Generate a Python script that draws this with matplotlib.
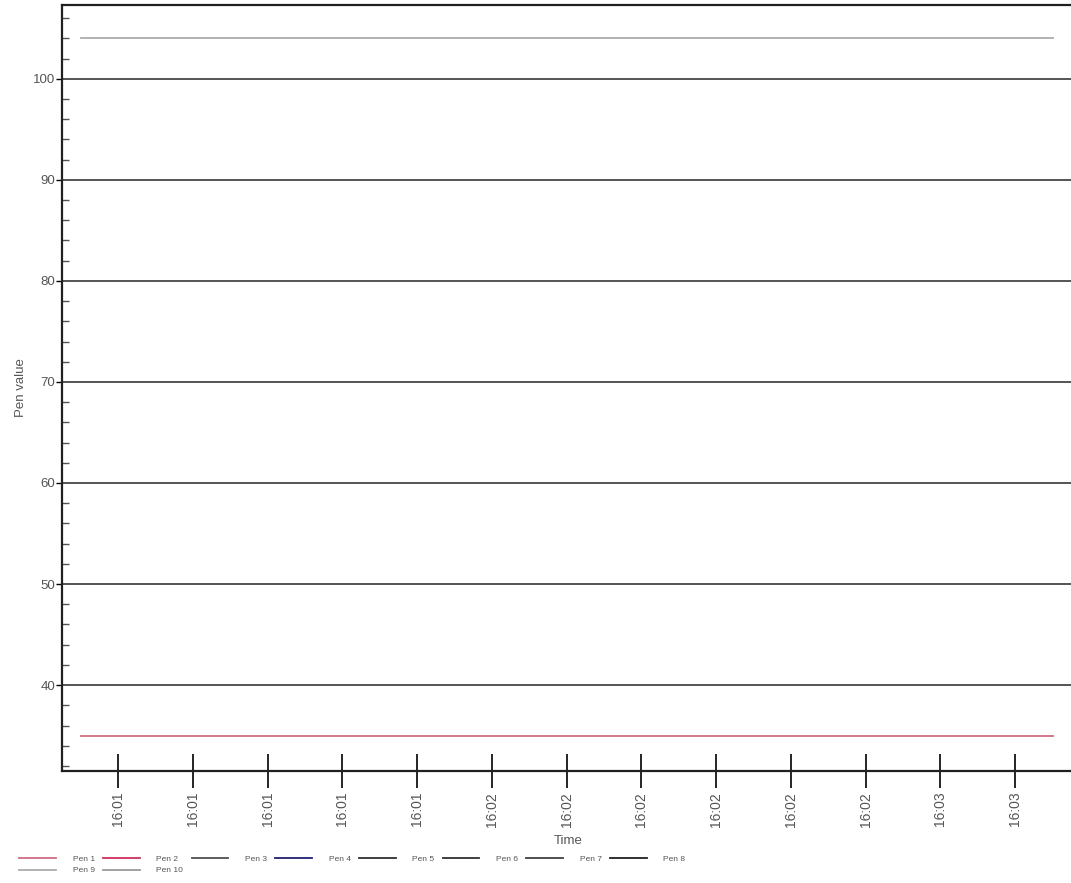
import matplotlib
matplotlib.use('Agg')
import matplotlib.pyplot as plt
import matplotlib.dates as mdates
from matplotlib.ticker import MultipleLocator
from datetime import datetime

# 数据
pen_names = ['Pen 1', 'Pen 2', 'Pen 3', 'Pen 4', 'Pen 5',
             'Pen 6', 'Pen 7', 'Pen 8', 'Pen 9', 'Pen 10']
pen_colors = ['#b8304e', '#d0305a', '#505050', '#202070', '#303030',
              '#303030', '#404040', '#202020', '#8a8a8a', '#9a9a9a']
times = ['16:01:05', '16:03:15']
pen1_values = [35, 35]
pen9_values = [104, 104]
tick_times = ['16:01:10', '16:01:20', '16:01:30', '16:01:40', '16:01:50',
              '16:02:00', '16:02:10', '16:02:20', '16:02:30', '16:02:40',
              '16:02:50', '16:03:00', '16:03:10']
x_range = ['16:01:02.5', '16:03:18']
y_range = (31.5, 107.3)


def to_dt(s):
    fmt = '%H:%M:%S.%f' if '.' in s else '%H:%M:%S'
    return datetime.strptime('2020-01-01 ' + s, '%Y-%m-%d ' + fmt)


def figure():
    plt.rcParams['font.family'] = ['Liberation Sans', 'DejaVu Sans']
    fig = plt.figure(figsize=(10.71, 8.83), dpi=100)
    ax = fig.add_axes([62 / 1071, 112 / 883, 1013 / 1071, 766 / 883])

    t = [to_dt(s) for s in times]
    # 只有两条曲线可见，其余只出现在图例里
    series = {'Pen 1': pen1_values, 'Pen 9': pen9_values}
    handles = {}
    for name, color in zip(pen_names, pen_colors):
        if name in series:
            h, = ax.plot(t, series[name], color=color, linewidth=1.3, alpha=0.7, label=name)
        else:
            h, = ax.plot([], [], color=color, linewidth=1.3, label=name)
        handles[name] = h

    ax.set_xlim(to_dt(x_range[0]), to_dt(x_range[1]))
    ax.set_ylim(*y_range)

    # y 轴刻度和网格
    ax.yaxis.set_major_locator(MultipleLocator(10))
    ax.yaxis.set_minor_locator(MultipleLocator(2))
    ax.grid(axis='y', which='major', color='#262626', linewidth=1.1)
    ax.set_axisbelow(True)
    ax.tick_params(axis='y', which='major', direction='out', length=4, width=1,
                   labelsize=9.5, labelcolor='#555555', pad=1)
    ax.tick_params(axis='y', which='minor', direction='in', length=5, width=1, color='#555555')

    # x 轴时间刻度
    ax.set_xticks([to_dt(s) for s in tick_times])
    ax.xaxis.set_major_formatter(mdates.DateFormatter('%H:%M'))
    ax.tick_params(axis='x', which='major', direction='inout', length=24, width=1.2,
                   labelsize=10, labelcolor='#555555', labelrotation=90, pad=3)

    for side in ['left', 'bottom', 'top']:
        ax.spines[side].set_linewidth(1.6)
        ax.spines[side].set_color('#202020')
    ax.spines['right'].set_visible(False)

    ax.set_xlabel('Time', fontsize=9.5, color='#555555', labelpad=6)
    ax.set_ylabel('Pen value', fontsize=9.5, color='#555555', labelpad=4)

    # 图例放在下方两行，按行排列
    order = ['Pen 1', 'Pen 9', 'Pen 2', 'Pen 10', 'Pen 3',
             'Pen 4', 'Pen 5', 'Pen 6', 'Pen 7', 'Pen 8']
    fig.legend(handles=[handles[n] for n in order], labels=order, loc='upper left',
               bbox_to_anchor=(0.011, 1 - 848 / 883), ncol=8, frameon=False,
               fontsize=6, handlelength=4.4, handletextpad=2.0, columnspacing=1.0,
               labelspacing=0.4, labelcolor='#555555')

    fig.savefig('out.png', dpi=100)


if __name__ == '__main__':
    figure()
